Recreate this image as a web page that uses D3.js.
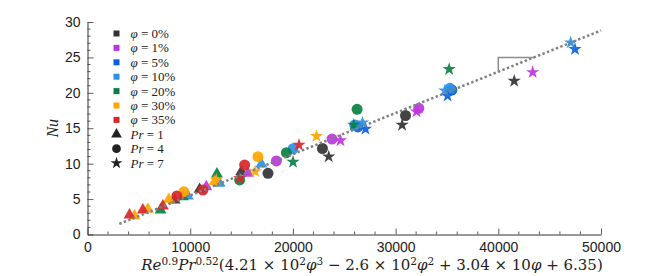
<!DOCTYPE html>
<html>
<head>
<meta charset="utf-8">
<script src="https://cdn.jsdelivr.net/npm/d3@7"></script>
<style>
  body { margin: 0; background: #fff; }
  svg text { fill: #222; }
</style>
</head>
<body>
<div id="chart"></div>
<script>
// legend / category info
const phiLabels = ['0%', '1%', '5%', '10%', '20%', '30%', '35%'];
const phiColors = ['#333333', '#bf33e3', '#0a5fe0', '#2b90e6', '#0a8043', '#ffa500', '#d7282a'];
const prLabels = ['1', '4', '7'];

// Pr = 1 (triangles)
const pr1X   = [8480, 10917, 14981, 11570, 15624, 9776, 12866, 16930, 7115, 9289, 12603, 4581, 5877, 7924, 12379, 4094, 5390, 7339];
const pr1Y   = [4.87, 6.38, 8.87, 6.75, 8.64, 5.44, 7.23, 9.95, 3.46, 5.34, 8.54, 2.61, 3.56, 4.97, 7.46, 2.75, 3.46, 4.02];
const pr1Phi = [0, 0, 0, 1, 1, 3, 3, 3, 4, 4, 4, 5, 5, 5, 5, 6, 6, 6];

// Pr = 4 (circles)
const pr4X   = [17574, 22876, 30966, 18393, 23812, 32262, 26317, 35478, 20011, 26024, 35284, 14815, 19367, 26249, 9386, 16599, 8704, 11238, 15302];
const pr4Y   = [8.64, 12.14, 16.80, 10.38, 13.48, 17.82, 15.18, 20.40, 12.10, 15.46, 20.64, 7.70, 11.55, 17.68, 6.04, 10.99, 5.44, 6.28, 9.81];
const pr4Phi = [0, 0, 0, 1, 1, 1, 2, 2, 3, 3, 3, 4, 4, 4, 5, 5, 6, 6, 6];

// Pr = 7 (stars)
const pr7X   = [23490, 30635, 41552, 24631, 32038, 43345, 27067, 35060, 47468, 26775, 34797, 47049, 20011, 25927, 35216, 12544, 16326, 22291, 14815, 20595];
const pr7Y   = [10.99, 15.46, 21.67, 13.27, 17.34, 22.90, 14.90, 19.56, 26.15, 15.79, 20.30, 27.08, 10.24, 15.46, 23.33, 7.70, 8.90, 13.87, 7.94, 12.64];
const pr7Phi = [0, 0, 0, 1, 1, 1, 2, 2, 2, 3, 3, 3, 4, 4, 4, 5, 5, 5, 6, 6];

// fit line and slope marker
const fitX = [3100, 50000];
const fitY = [1.5, 28.8];
const slopeX = [40000, 40000, 43500];
const slopeY = [23.0, 25.0, 25.0];

const xTicks = [0, 10000, 20000, 30000, 40000, 50000];
const yTicks = [0, 5, 10, 15, 20, 25, 30];

const width = 664, height = 276;
const margin = { left: 87.5, right: 63, top: 22, bottom: 41.5 };

const svg = d3.select('#chart')
  .append('svg')
    .attr('width', width)
    .attr('height', height);

const x = d3.scaleLinear().domain([0, 50000]).range([margin.left, width - margin.right]);
const y = d3.scaleLinear().domain([0, 30]).range([height - margin.bottom, margin.top]);

// minor ticks
const minorX = d3.range(0, 50001, 2000).filter(v => v % 10000 !== 0);
const minorY = d3.range(0, 31, 1).filter(v => v % 5 !== 0);

const axisColor = '#333';

svg.append('g')
  .selectAll('line')
  .data(minorX)
  .enter()
  .append('line')
    .attr('x1', d => x(d)).attr('x2', d => x(d))
    .attr('y1', y(0)).attr('y2', y(0) - 3)
    .attr('stroke', axisColor).attr('stroke-width', 0.8);

svg.append('g')
  .selectAll('line')
  .data(minorY)
  .enter()
  .append('line')
    .attr('y1', d => y(d)).attr('y2', d => y(d))
    .attr('x1', x(0)).attr('x2', x(0) + 3)
    .attr('stroke', axisColor).attr('stroke-width', 0.8);

const xAxis = svg.append('g')
  .attr('transform', `translate(0,${y(0)})`)
  .call(d3.axisBottom(x).tickValues(xTicks).tickFormat(d3.format('d')).tickSizeInner(-6).tickSizeOuter(0).tickPadding(8));

const yAxis = svg.append('g')
  .attr('transform', `translate(${x(0)},0)`)
  .call(d3.axisLeft(y).tickValues(yTicks).tickSizeInner(-6).tickSizeOuter(0).tickPadding(7));

[xAxis, yAxis].forEach(g => {
  g.select('.domain').attr('stroke', axisColor);
  g.selectAll('.tick line').attr('stroke', axisColor).attr('stroke-width', 0.8);
  g.selectAll('.tick text')
    .style('font-family', '"Liberation Sans", Arial, sans-serif')
    .style('font-size', '14px')
    .attr('fill', '#222');
});

// markers
const symbols = [d3.symbolTriangle, d3.symbolCircle, d3.symbolStar];
const symSizes = [62, 95, 55];

const seriesX = [pr1X, pr4X, pr7X];
const seriesY = [pr1Y, pr4Y, pr7Y];
const seriesPhi = [pr1Phi, pr4Phi, pr7Phi];

const points = [];
seriesX.forEach((xs, s) => {
  xs.forEach((v, i) => {
    points.push({ s: s, x: v, y: seriesY[s][i], phi: seriesPhi[s][i] });
  });
});

svg.append('g')
  .selectAll('path')
  .data(points)
  .enter()
  .append('path')
    .attr('d', d => d3.symbol().type(symbols[d.s]).size(symSizes[d.s])())
    .attr('transform', d => `translate(${x(d.x)},${y(d.y)})`)
    .style('fill', d => phiColors[d.phi])
    .style('fill-opacity', 0.92);

// fit line (on top)
const line = d3.line().x(d => x(d[0])).y(d => y(d[1]));
svg.append('path')
  .datum(fitX.map((v, i) => [v, fitY[i]]))
  .attr('d', line)
  .attr('fill', 'none')
  .attr('stroke', '#808080')
  .attr('stroke-width', 2.5)
  .attr('stroke-dasharray', '2.4,2.4');

svg.append('path')
  .datum(slopeX.map((v, i) => [v, slopeY[i]]))
  .attr('d', line)
  .attr('fill', 'none')
  .attr('stroke', '#8c8c8c')
  .attr('stroke-width', 1.5);

// legend
const serif = '"Liberation Serif", "DejaVu Serif", serif';
const legend = svg.append('g').attr('transform', 'translate(116.5,33.5)');
const rowH = 14.4;

phiLabels.forEach((lab, i) => {
  const row = legend.append('g').attr('transform', `translate(0,${i * rowH})`);
  row.append('rect')
    .attr('x', -3).attr('y', -3).attr('width', 6).attr('height', 6)
    .attr('fill', phiColors[i]);
  const t = row.append('text')
    .attr('x', 14).attr('y', 4.5)
    .style('font-family', serif)
    .style('font-size', '13px');
  t.append('tspan').style('font-style', 'italic').text('φ');
  t.append('tspan').text(' = ' + lab);
});

prLabels.forEach((lab, i) => {
  const row = legend.append('g').attr('transform', `translate(0,${(phiLabels.length + i) * rowH})`);
  row.append('path')
    .attr('d', d3.symbol().type(symbols[i]).size([50, 60, 45][i])())
    .attr('fill', '#222');
  const t = row.append('text')
    .attr('x', 14).attr('y', 4.5)
    .style('font-family', serif)
    .style('font-size', '13px');
  t.append('tspan').style('font-style', 'italic').text('Pr');
  t.append('tspan').text(' = ' + lab);
});

// axis labels
const xl = svg.append('text')
  .attr('x', 372)
  .attr('y', 270)
  .attr('text-anchor', 'middle')
  .style('font-family', '"DejaVu Serif", serif')
  .style('font-size', '15px');
const parts = [
  ['Re', true, false], ['0.9', false, true], ['Pr', true, false], ['0.52', false, true],
  ['(4.21 × 10', false, false], ['2', false, true], ['φ', true, false], ['3', false, true],
  [' − 2.6 × 10', false, false], ['2', false, true], ['φ', true, false], ['2', false, true],
  [' + 3.04 × 10', false, false], ['φ', true, false], [' + 6.35)', false, false]
];
parts.forEach(p => {
  const ts = xl.append('tspan').text(p[0]);
  if (p[1]) ts.style('font-style', 'italic');
  if (p[2]) ts.style('font-size', '10.5px').attr('baseline-shift', '45%');
});

svg.append('text')
  .attr('transform', `translate(58,${(y(0) + y(30)) / 2}) rotate(-90)`)
  .attr('text-anchor', 'middle')
  .style('font-family', serif)
  .style('font-size', '16px')
  .style('font-style', 'italic')
  .text('Nu');
</script>
</body>
</html>
